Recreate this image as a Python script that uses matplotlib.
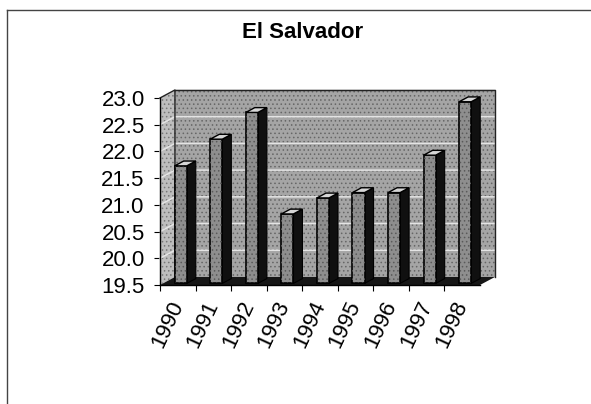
import matplotlib
matplotlib.use('Agg')
import matplotlib.pyplot as plt
from matplotlib.patches import Polygon
from matplotlib.lines import Line2D
import numpy as np

# ---- data ----
years = ['1990', '1991', '1992', '1993', '1994', '1995', '1996', '1997', '1998']
values = [21.7, 22.2, 22.7, 20.8, 21.1, 21.2, 21.2, 21.9, 22.9]
y_ticks = [19.5, 20.0, 20.5, 21.0, 21.5, 22.0, 22.5, 23.0]
title = 'El Salvador'

plt.rcParams['font.family'] = ['Liberation Sans', 'DejaVu Sans']
plt.rcParams['hatch.linewidth'] = 0.6

fig = plt.figure(figsize=(5.91, 4.04), dpi=100)
fig.patch.set_facecolor('white')
ax = fig.add_axes([160/591, 1-285/404, 320/591, (285-98)/404])
n = len(values)
ymin, ymax = y_ticks[0], y_ticks[-1]
ax.set_xlim(0, n)
ax.set_ylim(ymin, ymax)
ax.patch.set_visible(False)
for k in ('top', 'right'):
    ax.spines[k].set_visible(False)
for k in ('left', 'bottom'):
    ax.spines[k].set_color('black')
    ax.spines[k].set_linewidth(1.0)
    ax.spines[k].set_zorder(20)

DX, DY = 0.42, 0.15   # depth offset (category units, value units)


def poly(pts, fc, ec='none', lw=0.0, z=1, hatch=None, hc=None):
    p = Polygon(pts, closed=True, facecolor=fc, edgecolor=ec, linewidth=lw,
                zorder=z, clip_on=False)
    ax.add_patch(p)
    if hatch:
        h = Polygon(pts, closed=True, facecolor='none', edgecolor=hc,
                    linewidth=0, hatch=hatch, zorder=z + 0.01, clip_on=False)
        ax.add_patch(h)


# back wall
poly([(DX, ymin + DY), (n + DX, ymin + DY), (n + DX, ymax + DY), (DX, ymax + DY)],
     '#a5a5a5', z=1, hatch='....', hc='#666666')
# side wall
poly([(0, ymin), (DX, ymin + DY), (DX, ymax + DY), (0, ymax)],
     '#bdbdbd', z=1, hatch='....', hc='#777777')
# gridlines
for g in y_ticks[1:]:
    ax.plot([0, DX, n + DX], [g, g + DY, g + DY], color='#e4e4e4', lw=1.1,
            zorder=2, clip_on=False)
# wall outlines
ax.plot([DX, n + DX, n + DX], [ymax + DY, ymax + DY, ymin + DY], color='#222222',
        lw=1.0, zorder=3, clip_on=False)
ax.plot([0, DX, DX], [ymax, ymax + DY, ymin + DY], color='#222222',
        lw=1.0, zorder=3, clip_on=False)
# floor
poly([(0, ymin), (n, ymin), (n + DX, ymin + DY), (DX, ymin + DY)], '#161616', z=4)

# bars
w = 0.34
d0, d1 = 0.2, 0.8
centers = np.arange(n) + 0.5
vals = np.array(values)
ax.bar(centers + d0 * DX, vals - ymin, width=w, bottom=ymin + d0 * DY,
       color='#8e8e8e', edgecolor='black', linewidth=1.2, zorder=6, clip_on=False)
ax.bar(centers + d0 * DX, vals - ymin, width=w, bottom=ymin + d0 * DY,
       color='none', edgecolor='#5a5a5a', linewidth=0, hatch='....', zorder=6.1,
       clip_on=False)
for c, v in zip(centers, vals):
    xl = c - w / 2 + d0 * DX
    xr = xl + w
    ddx = (d1 - d0) * DX
    poly([(xr, ymin + d0 * DY), (xr + ddx, ymin + d1 * DY),
          (xr + ddx, v + d1 * DY), (xr, v + d0 * DY)], '#101010', ec='black',
         lw=0.8, z=5)
    poly([(xl, v + d0 * DY), (xr, v + d0 * DY), (xr + ddx, v + d1 * DY),
          (xl + ddx, v + d1 * DY)], '#d6d6d6', ec='black', lw=1.0, z=7)

# axes ticks & labels
ax.set_yticks(y_ticks)
ax.set_yticklabels([f'{t:.1f}' for t in y_ticks])
ax.tick_params(axis='y', length=4, width=0.8, direction='out', labelsize=16,
               pad=7, colors='black')
ax.set_xticks(np.arange(n))
ax.set_xticklabels([])
ax.set_xticks(centers, minor=True)
ax.set_xticklabels(years, minor=True, rotation=65, ha='right', va='center',
                   rotation_mode='anchor', fontsize=16)
ax.tick_params(axis='x', which='major', length=4, width=0.8, direction='out')
ax.tick_params(axis='x', which='minor', length=0, pad=12)

# title
fig.text(303/591, 1 - 33/404, title, ha='center', va='center', fontsize=16,
         fontweight='bold')

# outer frame (top and left edges)
fig.add_artist(Line2D([7/591, 1], [1 - 10/404, 1 - 10/404], transform=fig.transFigure,
                      color='#444444', lw=1.0))
fig.add_artist(Line2D([7/591, 7/591], [0, 1 - 10/404], transform=fig.transFigure,
                      color='#444444', lw=1.0))

fig.savefig('out.png', dpi=100)
